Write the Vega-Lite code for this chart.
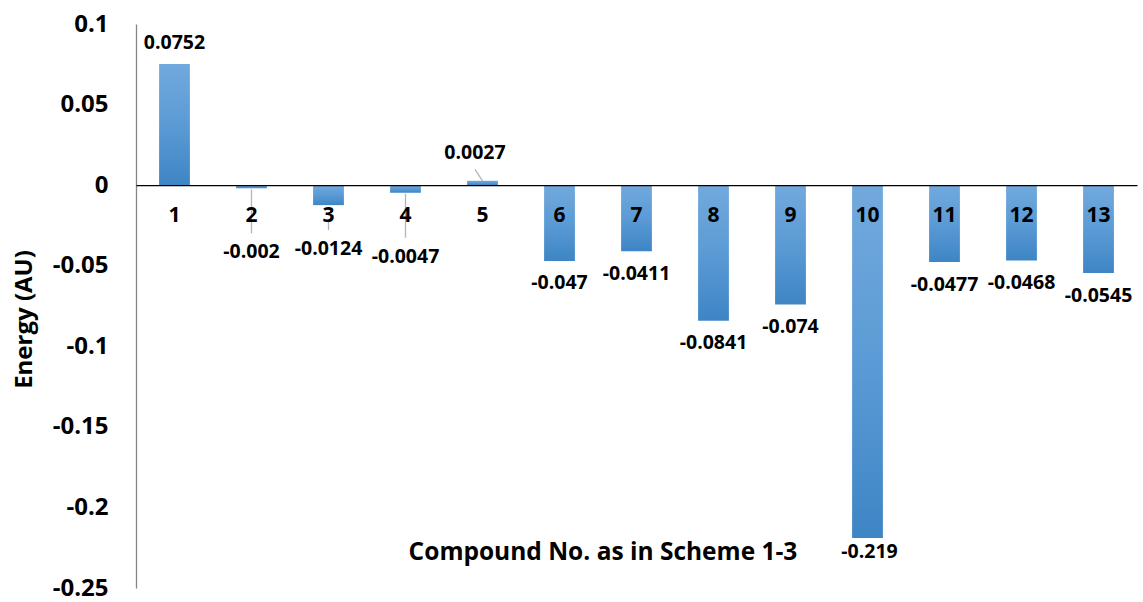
{
  "$schema": "https://vega.github.io/schema/vega-lite/v6.json",
  "width": 1001,
  "height": 564,
  "autosize": "none",
  "padding": {"left": 136, "top": 24, "right": 6, "bottom": 14},
  "background": "#ffffff",
  "config": {
    "view": {"stroke": null},
    "font": "Open Sans",
    "text": {"font": "Open Sans", "fontWeight": "bold", "fontSize": 19.5, "color": "#000000"}
  },
  "data": {
    "values": [
      {"compound": "1", "energy": 0.0752},
      {"compound": "2", "energy": -0.002},
      {"compound": "3", "energy": -0.0124},
      {"compound": "4", "energy": -0.0047},
      {"compound": "5", "energy": 0.0027},
      {"compound": "6", "energy": -0.047},
      {"compound": "7", "energy": -0.0411},
      {"compound": "8", "energy": -0.0841},
      {"compound": "9", "energy": -0.074},
      {"compound": "10", "energy": -0.219},
      {"compound": "11", "energy": -0.0477},
      {"compound": "12", "energy": -0.0468},
      {"compound": "13", "energy": -0.0545}
    ]
  },
  "encoding": {
    "x": {
      "field": "compound",
      "type": "ordinal",
      "sort": null,
      "scale": {"paddingInner": 0.6, "paddingOuter": 0.3},
      "axis": {
        "orient": "bottom",
        "offset": -402.9,
        "zindex": 1,
        "labelAngle": 0,
        "ticks": false,
        "domainColor": "#000000",
        "domainWidth": 1.3,
        "labelFont": "Open Sans",
        "labelFontWeight": "bold",
        "labelFontSize": 21,
        "labelColor": "#000000",
        "labelPadding": 19,
        "title": "Compound No. as in Scheme 1-3",
        "titleFont": "Open Sans",
        "titleFontSize": 24.5,
        "titleFontWeight": "bold",
        "titleColor": "#000000",
        "titleX": 466.5,
        "titleY": 373.9,
        "titleAlign": "center",
        "titleBaseline": "alphabetic"
      }
    },
    "y": {
      "field": "energy",
      "type": "quantitative",
      "scale": {"domain": [-0.25, 0.1], "nice": false, "zero": false},
      "axis": {
        "orient": "left",
        "values": [0.1, 0.05, 0, -0.05, -0.1, -0.15, -0.2, -0.25],
        "labelExpr": "'' + datum.value",
        "ticks": false,
        "grid": false,
        "domainColor": "#868686",
        "domainWidth": 1.3,
        "labelFont": "Open Sans",
        "labelFontWeight": "bold",
        "labelFontSize": 24,
        "labelColor": "#000000",
        "labelPadding": 28,
        "title": "Energy (AU)",
        "titleFont": "Open Sans",
        "titleFontSize": 24,
        "titleFontWeight": "bold",
        "titleColor": "#000000",
        "titleX": -112,
        "titleY": 295,
        "titleAlign": "center",
        "titleBaseline": "middle"
      }
    }
  },
  "layer": [
    {
      "mark": {
        "type": "bar",
        "color": {
          "gradient": "linear",
          "x1": 0, "y1": 0, "x2": 0, "y2": 1,
          "stops": [
            {"offset": 0, "color": "#72a9dd"},
            {"offset": 0.5, "color": "#5b9bd5"},
            {"offset": 1, "color": "#3e85c5"}
          ]
        }
      }
    },
    {
      "transform": [{"filter": {"field": "compound", "oneOf": ["2", "4"]}}],
      "mark": {"type": "rule", "color": "#a9b8c8", "strokeWidth": 1.3, "yOffset": 1, "y2Offset": 45},
      "encoding": {"y2": {"field": "energy"}}
    },
    {
      "transform": [{"filter": {"field": "compound", "oneOf": ["3"]}}],
      "mark": {"type": "rule", "color": "#a9b8c8", "strokeWidth": 1.3, "yOffset": 15, "y2Offset": 25},
      "encoding": {"y2": {"field": "energy"}}
    },
    {
      "transform": [{"filter": {"field": "compound", "oneOf": ["5"]}}],
      "mark": {"type": "rule", "color": "#a9b8c8", "strokeWidth": 1.3, "xOffset": -7.5, "yOffset": -11.5},
      "encoding": {"x2": {"field": "compound"}, "y2": {"field": "energy"}}
    },
    {
      "transform": [{"filter": {"field": "compound", "oneOf": ["1"]}}],
      "mark": {"type": "text", "baseline": "alphabetic", "dy": -15.3},
      "encoding": {"text": {"field": "energy", "type": "nominal"}}
    },
    {
      "transform": [{"filter": {"field": "compound", "oneOf": ["5"]}}],
      "mark": {"type": "text", "baseline": "alphabetic", "dy": -21.5, "dx": -7.5},
      "encoding": {"text": {"field": "energy", "type": "nominal"}}
    },
    {
      "transform": [{"filter": {"field": "compound", "oneOf": ["2", "4"]}}],
      "mark": {"type": "text", "baseline": "alphabetic", "dy": 70},
      "encoding": {"text": {"field": "energy", "type": "nominal"}}
    },
    {
      "transform": [{"filter": {"field": "compound", "oneOf": ["3"]}}],
      "mark": {"type": "text", "baseline": "alphabetic", "dy": 50},
      "encoding": {"text": {"field": "energy", "type": "nominal"}}
    },
    {
      "transform": [{"filter": {"field": "compound", "oneOf": ["6", "7", "8", "9", "11", "12", "13"]}}],
      "mark": {"type": "text", "baseline": "alphabetic", "dy": 28.6},
      "encoding": {"text": {"field": "energy", "type": "nominal"}}
    },
    {
      "transform": [{"filter": {"field": "compound", "oneOf": ["10"]}}],
      "mark": {"type": "text", "baseline": "alphabetic", "dy": 19.5, "dx": 2},
      "encoding": {"text": {"field": "energy", "type": "nominal"}}
    }
  ]
}
